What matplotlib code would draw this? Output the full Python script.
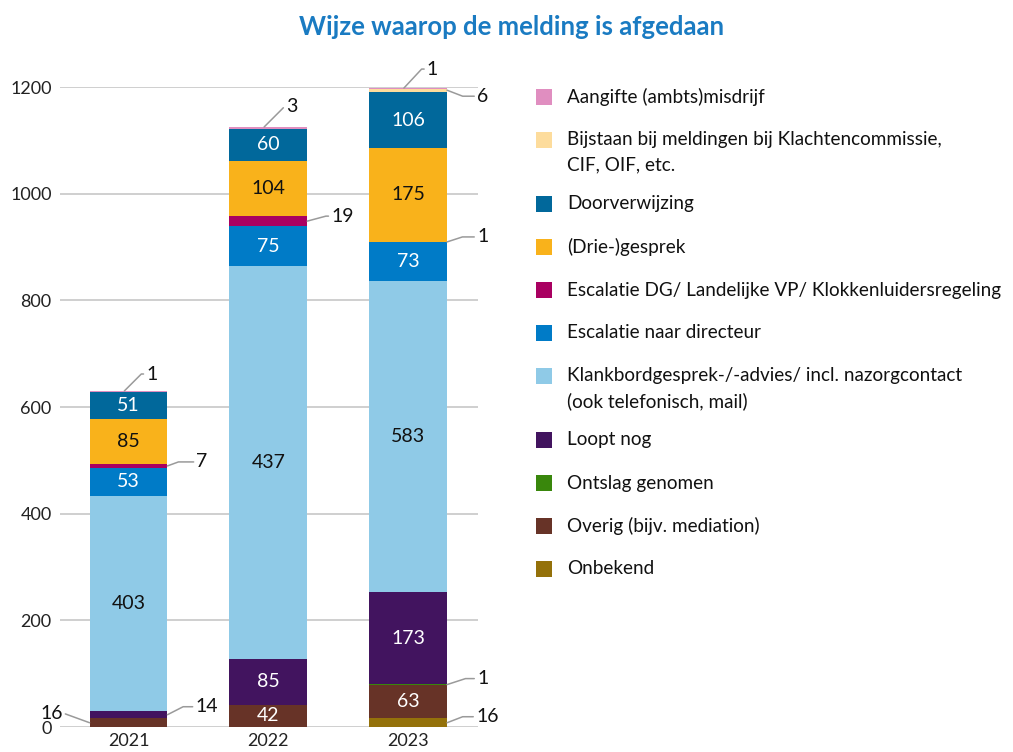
import numpy as np
import matplotlib
matplotlib.use('Agg')
import matplotlib.pyplot as plt
import matplotlib.patches as mpatches

plt.rcParams['font.family'] = ['Lato', 'DejaVu Sans']

# data
years = ['2021', '2022', '2023']

# stacking order bottom -> top
categories = [
    'Onbekend',
    'Overig (bijv. mediation)',
    'Ontslag genomen',
    'Loopt nog',
    'Klankbordgesprek-/-advies/ incl. nazorgcontact\n(ook telefonisch, mail)',
    'Escalatie naar directeur',
    'Escalatie DG/ Landelijke VP/ Klokkenluidersregeling',
    '(Drie-)gesprek',
    'Doorverwijzing',
    'Bijstaan bij meldingen bij Klachtencommissie,\nCIF, OIF, etc.',
    'Aangifte (ambts)misdrijf',
]
onbekend = [0, 0, 16]
overig = [16, 42, 63]
ontslag = [0, 0, 1]
loopt_nog = [14, 85, 173]
klankbord = [403, 737, 583]   # 2022 bar is drawn at 737, printed as 437
esc_directeur = [53, 75, 73]
esc_dg = [7, 19, 1]
driegesprek = [85, 104, 175]
doorverwijzing = [51, 60, 106]
bijstaan = [0, 0, 6]
aangifte = [1, 3, 1]

series = [onbekend, overig, ontslag, loopt_nog, klankbord, esc_directeur,
          esc_dg, driegesprek, doorverwijzing, bijstaan, aangifte]

# labels as printed in the chart (year idx, category idx)
printed = {(1, 4): '437'}

colors = ['#94710a', '#673327', '#39870c', '#42145f', '#8fcae7', '#007bc7',
          '#a90061', '#f9b21b', '#01689b', '#fddc9c', '#e08ec0']
white_text = {'#673327', '#42145f', '#007bc7', '#01689b', '#94710a'}

# small values labelled outside: (year, category index, dx px, dy px, angle, side)
callouts = [
    (0, 10, 22, 17, 45, 'top'),
    (0, 6, 29, 4, 20, 'right'),
    (0, 3, 28, 8, 27, 'right'),
    (0, 1, -27, 9, 160, 'left'),
    (1, 10, 22, 21, 45, 'top'),
    (1, 6, 24, 5, 15, 'right'),
    (2, 10, 23, 19, 47, 'top'),
    (2, 9, 30, -6, -21, 'right'),
    (2, 6, 30, 5, 18, 'right'),
    (2, 2, 30, 6, 18, 'right'),
    (2, 0, 29, 6, 21, 'right'),
]

W, H = 1013, 752
fig = plt.figure(figsize=(W / 100, H / 100), dpi=100)
ax = fig.add_axes([60 / W, 25 / H, (478 - 60) / W, 640 / H])

x = np.arange(len(years))
width = 0.557
bottom = np.zeros(len(years))
seg_bottom = []
for ci, (vals, col) in enumerate(zip(series, colors)):
    vals = np.array(vals, dtype=float)
    ax.bar(x, vals, width, bottom=bottom, color=col, zorder=3, linewidth=0)
    seg_bottom.append(bottom.copy())
    for i, v in enumerate(vals):
        if v >= 40:
            txt = printed.get((i, ci), str(int(v)))
            ax.text(x[i], bottom[i] + v / 2, txt, ha='center', va='center',
                    fontsize=14, color='white' if col in white_text else '#111111',
                    zorder=4)
    bottom = bottom + vals

# callouts with leader lines
k = 0.72  # px -> pt
for yi, ci, dx, dy, ang, side in callouts:
    v = series[ci][yi]
    b = seg_bottom[ci][yi]
    if side == 'top':
        xy = (x[yi] - 0.03, b + v)
    elif side == 'right':
        xy = (x[yi] + width / 2, b + v / 2)
    else:
        xy = (x[yi] - width / 2, b + v / 2)
    ax.annotate(str(v), xy=xy, xytext=(dx * k, dy * k), textcoords='offset points',
                ha='right' if side == 'left' else 'left', va='center',
                fontsize=14, color='#111111', annotation_clip=False,
                arrowprops=dict(arrowstyle='-', color='#9a9a9a', lw=1.1,
                                shrinkA=0, shrinkB=0,
                                connectionstyle=f'angle,angleA=0,angleB={ang},rad=0'))

ax.set_xlim(-0.49, 2.5)
ax.set_ylim(0, 1200)
ax.set_yticks(np.arange(0, 1201, 200))
ax.set_xticks(x)
ax.set_xticklabels(years)
ax.grid(axis='y', color='#cccccc', lw=1.3, zorder=0)
ax.tick_params(axis='both', length=0, labelsize=13, colors='#222222')
ax.tick_params(axis='y', pad=6)
ax.tick_params(axis='x', pad=4)
for s in ax.spines.values():
    s.set_visible(False)

fig.text(0.505, 1 - 27 / H, 'Wijze waarop de melding is afgedaan', ha='center',
         va='center', fontsize=18.5, fontweight='bold', color='#1a7bc2')

# legend, top to bottom
ypix = 97
for name, col in zip(categories[::-1], colors[::-1]):
    fig.patches.append(mpatches.Rectangle((536 / W, 1 - (ypix + 8) / H), 16 / W, 16 / H,
                                          transform=fig.transFigure, facecolor=col,
                                          edgecolor='none'))
    lines = name.split('\n')
    for j, line in enumerate(lines):
        fig.text(567 / W, 1 - (ypix + 25 * j) / H, line, ha='left', va='center',
                 fontsize=13.6, color='#111111')
    ypix += 43 + 21 * (len(lines) - 1)

fig.savefig('out.png', dpi=100)
